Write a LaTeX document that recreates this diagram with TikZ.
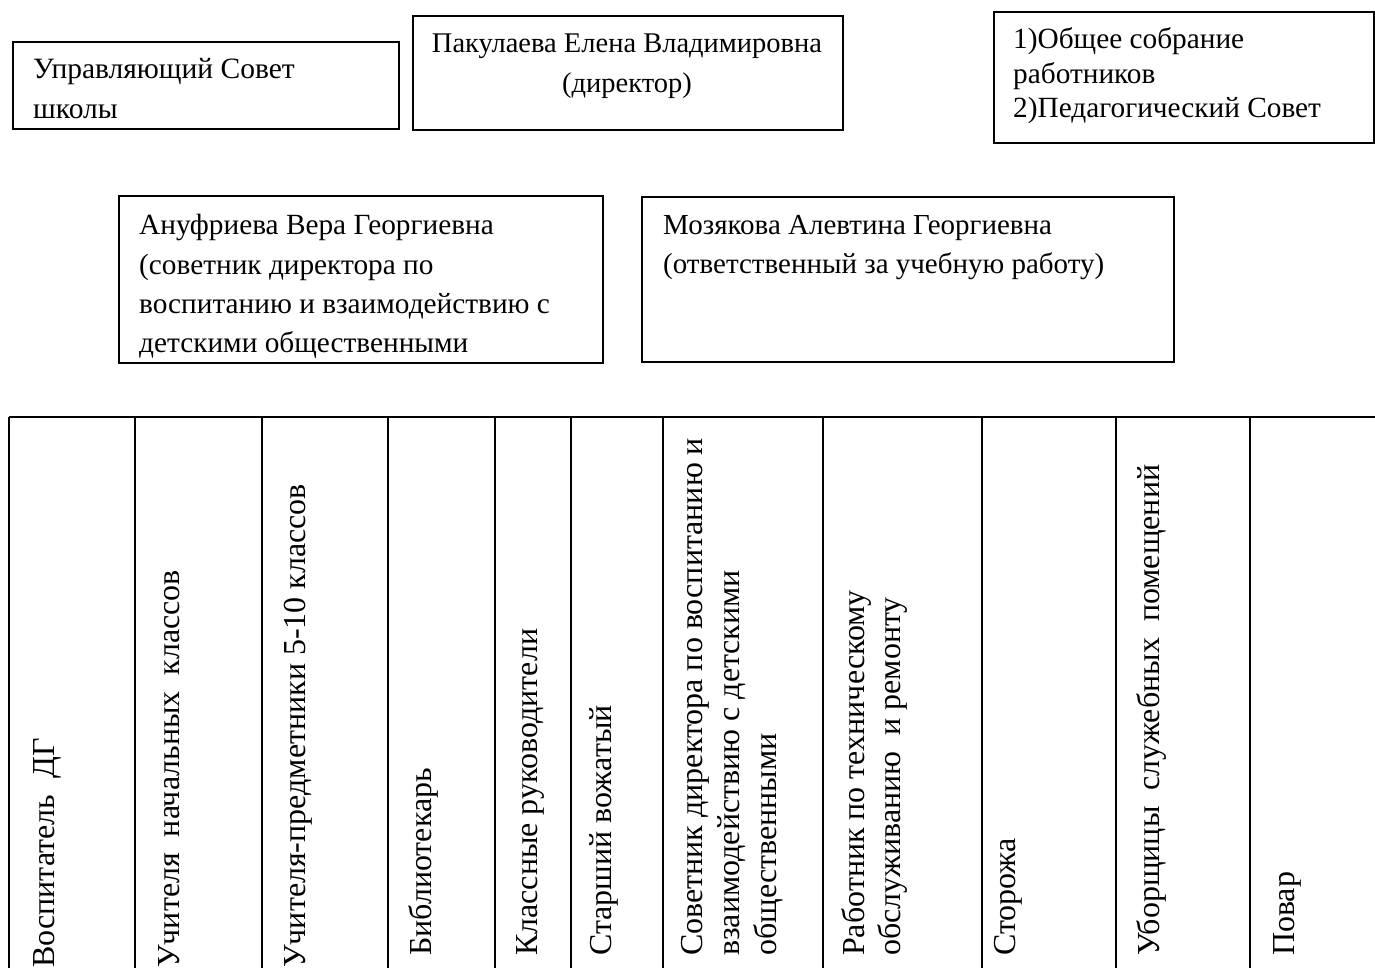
\documentclass[tikz,border=0pt]{standalone}
\usepackage{fontspec}
\setmainfont{Liberation Serif}
\newcommand{\boxlines}[4]{\parbox[t]{#1}{\fontsize{#4}{#2}\selectfont\raggedright #3}}
\newcommand{\collines}[2]{\parbox[t]{620pt}{\fontsize{32}{#1}\selectfont\raggedright #2}}
\begin{document}
\begin{tikzpicture}[x=1pt,y=-1pt,
  boxnode/.style={draw, line width=1.6pt, rectangle, inner sep=0pt, anchor=north west},
  boxtext/.style={inner sep=0pt, anchor=base west},
  coltext/.style={inner sep=0pt, anchor=base west, rotate=90},
  tablerule/.style={line width=2.4pt}]
\useasboundingbox (0,0) rectangle (1375,968);

% top boxes
\node[boxnode, minimum width=386pt, minimum height=87pt] (sovet) at (12,41) {};
\node[boxtext] (sovet-t) at (33,79) {\boxlines{360pt}{40}{Управляющий Совет\\школы}{29.5}};

\node[boxnode, minimum width=430pt, minimum height=114pt] (dir) at (412,15) {};
\node[inner sep=0pt, anchor=base] (dir-t) at (627,53) {\parbox[t]{430pt}{\fontsize{28.5}{40}\selectfont\centering Пакулаева Елена Владимировна\\(директор)}};

\node[boxnode, minimum width=380pt, minimum height=131pt] (sobr) at (993,11) {};
\node[boxtext] (sobr-t) at (1013,49) {\boxlines{360pt}{34.5}{1)Общее собрание\\работников\\2)Педагогический Совет}{29.3}};

\node[boxnode, minimum width=484pt, minimum height=167pt] (anuf) at (118,195) {};
\node[boxtext] (anuf-t) at (139,235) {\boxlines{470pt}{39.3}{Ануфриева Вера Георгиевна\\(советник директора по\\воспитанию и взаимодействию с\\детскими общественными}{29.3}};

\node[boxnode, minimum width=532pt, minimum height=165pt] (moz) at (641,196) {};
\node[boxtext] (moz-t) at (663,235) {\boxlines{500pt}{39}{Мозякова Алевтина Георгиевна\\(ответственный за учебную работу)}{29}};

% table
\draw[tablerule] (9,417) -- (1377,417);
\foreach \xx in {9,135,262,388,495,571,663,823,982,1116,1250}
  \draw[tablerule] (\xx,417) -- (\xx,970);

% column texts
\node[coltext] (c1) at (54,968) {\collines{37}{Воспитатель\ \ ДГ}};
\node[coltext] (c2) at (179,968) {\collines{37}{Учителя\ \ начальных\ \ классов}};
\node[coltext] (c3) at (305,968) {\collines{37}{Учителя-предметники 5-10 классов}};
\node[coltext] (c4) at (431,956) {\collines{37}{Библиотекарь}};
\node[coltext] (c5) at (537,956) {\collines{37}{Классные руководители}};
\node[coltext] (c6) at (611,956) {\collines{37}{Старший вожатый}};
\node[coltext] (c7) at (702,956) {\collines{37}{Советник директора по воспитанию и\\взаимодействию с детскими\\общественными}};
\node[coltext] (c8) at (864,956) {\collines{36}{Работник по техническому\\обслуживанию\ \ и ремонту}};
\node[coltext] (c9) at (1015,956) {\collines{37}{Сторожа}};
\node[coltext] (c10) at (1159,956) {\collines{37}{Уборщицы\ \ служебных\ \ помещений}};
\node[coltext] (c11) at (1294,956) {\collines{37}{Повар}};
\end{tikzpicture}
\end{document}
